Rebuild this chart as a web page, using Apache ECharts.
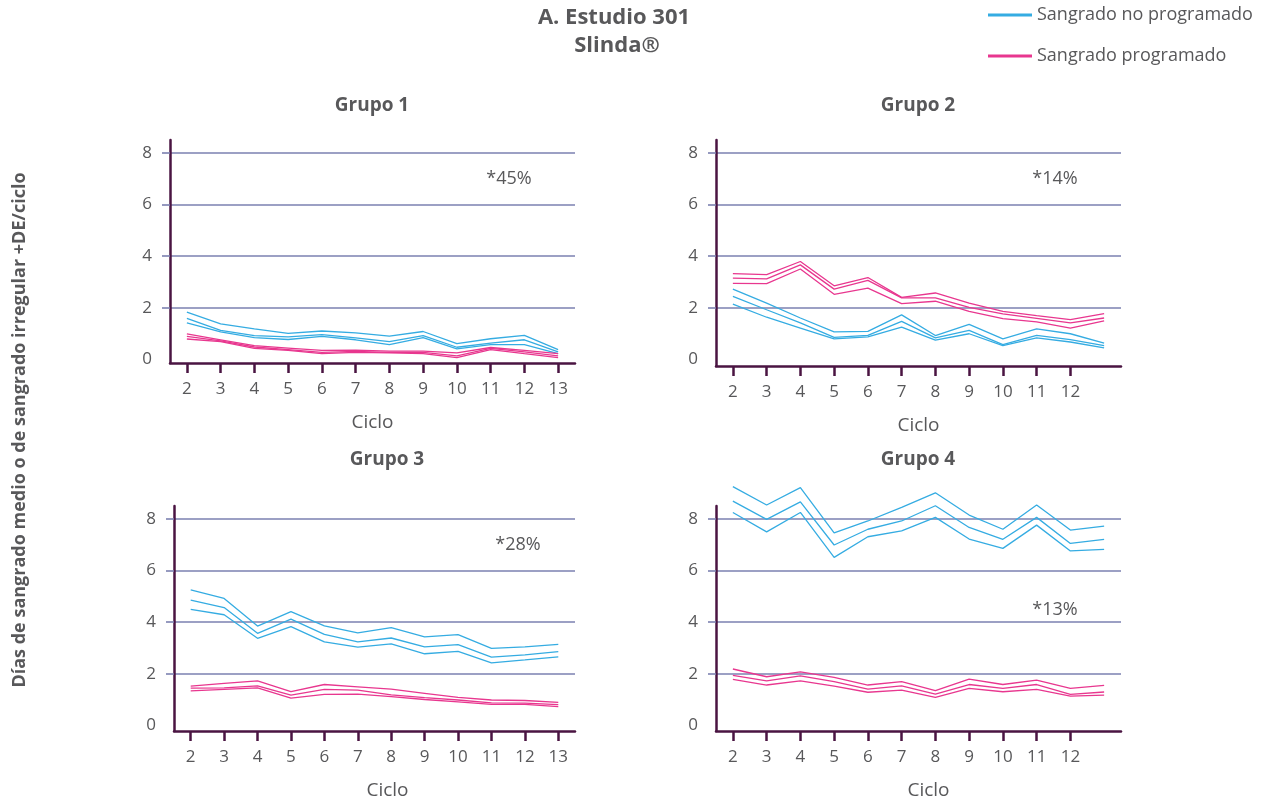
<!DOCTYPE html>
<html>
<head>
<meta charset="utf-8">
<script src="https://cdn.jsdelivr.net/npm/echarts@6/dist/echarts.min.js"></script>
<style>
  html, body { margin: 0; padding: 0; background: #ffffff; }
  #chart { width: 1263px; height: 805px; }
</style>
</head>
<body>
<div id="chart"></div>
<script>
// Cycle categories on the x axis
const ciclos = ['2', '3', '4', '5', '6', '7', '8', '9', '10', '11', '12', '13'];
const yTicks = [0, 2, 4, 6, 8];

// Grupo 1 – sangrado no programado (upper / middle / lower lines)
const g1NoProgAlto  = [1.83, 1.38, 1.18, 1.01, 1.10, 1.03, 0.90, 1.08, 0.61, 0.80, 0.93, 0.38];
const g1NoProgMedio = [1.59, 1.12, 0.92, 0.87, 0.96, 0.83, 0.69, 0.92, 0.47, 0.63, 0.76, 0.29];
const g1NoProgBajo  = [1.41, 1.07, 0.84, 0.77, 0.89, 0.76, 0.57, 0.84, 0.41, 0.57, 0.57, 0.22];
// Grupo 1 – sangrado programado
const g1ProgAlto  = [0.99, 0.76, 0.53, 0.44, 0.35, 0.36, 0.32, 0.32, 0.25, 0.46, 0.35, 0.22];
const g1ProgMedio = [0.89, 0.72, 0.48, 0.38, 0.27, 0.31, 0.27, 0.27, 0.14, 0.43, 0.29, 0.14];
const g1ProgBajo  = [0.79, 0.69, 0.43, 0.35, 0.22, 0.27, 0.25, 0.22, 0.07, 0.38, 0.22, 0.07];

// Grupo 2
const g2NoProgAlto  = [2.72, 2.18, 1.60, 1.06, 1.08, 1.72, 0.92, 1.35, 0.79, 1.18, 0.99, 0.63];
const g2NoProgMedio = [2.44, 1.92, 1.41, 0.85, 0.93, 1.47, 0.83, 1.12, 0.57, 0.93, 0.76, 0.53];
const g2NoProgBajo  = [2.14, 1.63, 1.21, 0.79, 0.87, 1.25, 0.74, 0.99, 0.53, 0.83, 0.67, 0.44];
const g2ProgAlto  = [3.32, 3.28, 3.79, 2.85, 3.17, 2.40, 2.57, 2.18, 1.86, 1.69, 1.54, 1.77];
const g2ProgMedio = [3.15, 3.12, 3.66, 2.72, 3.06, 2.38, 2.38, 2.01, 1.76, 1.59, 1.41, 1.60];
const g2ProgBajo  = [2.94, 2.93, 3.50, 2.52, 2.76, 2.16, 2.25, 1.86, 1.58, 1.45, 1.21, 1.49];

// Grupo 3
const g3NoProgAlto  = [5.25, 4.92, 3.85, 4.41, 3.86, 3.59, 3.79, 3.43, 3.52, 2.99, 3.05, 3.14];
const g3NoProgMedio = [4.86, 4.57, 3.57, 4.12, 3.53, 3.24, 3.39, 3.05, 3.13, 2.65, 2.74, 2.86];
const g3NoProgBajo  = [4.50, 4.29, 3.38, 3.83, 3.24, 3.04, 3.16, 2.78, 2.87, 2.43, 2.54, 2.66];
const g3ProgAlto  = [1.53, 1.63, 1.73, 1.31, 1.59, 1.50, 1.41, 1.25, 1.09, 0.99, 0.97, 0.90];
const g3ProgMedio = [1.45, 1.46, 1.54, 1.18, 1.40, 1.37, 1.19, 1.08, 0.99, 0.88, 0.87, 0.81];
const g3ProgBajo  = [1.34, 1.40, 1.46, 1.06, 1.21, 1.22, 1.12, 1.01, 0.92, 0.82, 0.82, 0.73];

// Grupo 4
const g4NoProgAlto  = [9.25, 8.54, 9.21, 7.46, 7.92, 8.45, 9.01, 8.15, 7.60, 8.54, 7.57, 7.72];
const g4NoProgMedio = [8.69, 7.98, 8.66, 6.99, 7.60, 7.92, 8.51, 7.67, 7.21, 8.06, 7.05, 7.21];
const g4NoProgBajo  = [8.25, 7.50, 8.25, 6.51, 7.31, 7.54, 8.06, 7.22, 6.86, 7.76, 6.76, 6.82];
const g4ProgAlto  = [2.19, 1.89, 2.08, 1.87, 1.57, 1.70, 1.35, 1.80, 1.59, 1.76, 1.44, 1.56];
const g4ProgMedio = [1.94, 1.73, 1.92, 1.70, 1.41, 1.54, 1.22, 1.59, 1.44, 1.59, 1.21, 1.30];
const g4ProgBajo  = [1.79, 1.57, 1.73, 1.53, 1.29, 1.37, 1.09, 1.44, 1.31, 1.40, 1.14, 1.18];

// Panel texts
const grupos = ['Grupo 1', 'Grupo 2', 'Grupo 3', 'Grupo 4'];
const porcentajes = ['*45%', '*14%', '*28%', '*13%'];
const nombreNoProg = 'Sangrado no programado';
const nombreProg = 'Sangrado programado';

const noProg = [
  [g1NoProgAlto, g1NoProgMedio, g1NoProgBajo],
  [g2NoProgAlto, g2NoProgMedio, g2NoProgBajo],
  [g3NoProgAlto, g3NoProgMedio, g3NoProgBajo],
  [g4NoProgAlto, g4NoProgMedio, g4NoProgBajo]
];
const prog = [
  [g1ProgAlto, g1ProgMedio, g1ProgBajo],
  [g2ProgAlto, g2ProgMedio, g2ProgBajo],
  [g3ProgAlto, g3ProgMedio, g3ProgBajo],
  [g4ProgAlto, g4ProgMedio, g4ProgBajo]
];

// Styling
const FONT = '"Open Sans", Lato, sans-serif';
const textGray = '#58585a';
const axisPlum = '#4a1442';
const gridBlue = '#7b80b0';
const azul = '#35ace2';
const rosa = '#e8378f';

// Panel layout (pixels) and the small dip of the x axis below zero
const panels = [
  { left: 170, top: 140, width: 405, height: 223, yMin: -0.14, full: true,  title: [372, 106], ciclo: 0,  pct: [509, 179] },
  { left: 716, top: 140, width: 405, height: 226, yMin: -0.26, full: false, title: [918, 106], ciclo: 0,  pct: [1055, 179] },
  { left: 174, top: 506, width: 401, height: 225, yMin: -0.21, full: true,  title: [387, 460], ciclo: 26, pct: [518, 545] },
  { left: 716, top: 506, width: 405, height: 225, yMin: -0.21, full: false, title: [918, 460], ciclo: 20, pct: [1055, 610] }
];

const grid = [], xAxis = [], yAxis = [], series = [], graphic = [];

panels.forEach((p, i) => {
  grid.push({ left: p.left, top: p.top, width: p.width, height: p.height, containLabel: false });

  // Grupo 2 and 4 carry 12 points but only label cycles 2–12
  const showIdx = p.full ? 0 : (idx) => idx < 11;

  xAxis.push({
    type: 'category',
    gridIndex: i,
    data: ciclos,
    boundaryGap: true,
    name: 'Ciclo',
    nameLocation: 'middle',
    nameGap: 50,
    nameTextStyle: { fontFamily: FONT, fontSize: 19, color: textGray, padding: [0, 0, 0, p.ciclo] },
    axisLine: { show: true, onZero: false, lineStyle: { color: axisPlum, width: 2.5 } },
    axisTick: { show: true, alignWithLabel: true, length: 10, interval: showIdx, lineStyle: { color: axisPlum, width: 2.5 } },
    axisLabel: { interval: showIdx, margin: 18, fontFamily: FONT, fontSize: 17, color: textGray },
    splitLine: { show: false }
  });

  yAxis.push({
    type: 'value',
    gridIndex: i,
    min: p.yMin,
    max: 8.5,
    axisLine: { show: true, lineStyle: { color: axisPlum, width: 2.5 } },
    axisTick: { show: true, length: 8, customValues: [2, 4, 6, 8], lineStyle: { color: gridBlue, width: 1.6 } },
    axisLabel: { customValues: yTicks, margin: 18, fontFamily: FONT, fontSize: 17, color: textGray },
    splitLine: { show: true, lineStyle: { color: gridBlue, width: 1.6 } }
  });

  const addLines = (sets, name, color) => {
    sets.forEach((vals) => {
      series.push({
        type: 'line',
        name: name,
        xAxisIndex: i,
        yAxisIndex: i,
        data: vals,
        symbol: 'none',
        showSymbol: false,
        clip: false,
        silent: true,
        color: color,
        lineStyle: { color: color, width: 1.3 }
      });
    });
  };
  addLines(noProg[i], nombreNoProg, azul);
  addLines(prog[i], nombreProg, rosa);

  graphic.push({
    type: 'text', x: p.title[0], y: p.title[1], silent: true,
    style: { text: grupos[i], font: 'bold 19px ' + FONT, fill: textGray, align: 'center', verticalAlign: 'middle' }
  });
  graphic.push({
    type: 'text', x: p.pct[0], y: p.pct[1], silent: true,
    style: { text: porcentajes[i], font: '18px ' + FONT, fill: textGray, align: 'center', verticalAlign: 'middle' }
  });
});

// Main title and shared y-axis caption
graphic.push({
  type: 'text', x: 614, y: 18, silent: true,
  style: { text: 'A. Estudio 301', font: 'bold 22px ' + FONT, fill: textGray, align: 'center', verticalAlign: 'middle' }
});
graphic.push({
  type: 'text', x: 617, y: 46, silent: true,
  style: { text: 'Slinda®', font: 'bold 22px ' + FONT, fill: textGray, align: 'center', verticalAlign: 'middle' }
});
graphic.push({
  type: 'text', x: 20, y: 430, rotation: Math.PI / 2, silent: true,
  style: { text: 'Días de sangrado medio o de sangrado irregular +DE/ciclo', font: 'bold 18px ' + FONT, fill: textGray, align: 'center', verticalAlign: 'middle' }
});

const chart = echarts.init(document.getElementById('chart'), null, { renderer: 'canvas' });
chart.setOption({
  animation: false,
  backgroundColor: '#ffffff',
  grid: grid,
  xAxis: xAxis,
  yAxis: yAxis,
  series: series,
  graphic: graphic,
  legend: {
    data: [nombreNoProg, nombreProg],
    orient: 'vertical',
    left: 983,
    top: 1,
    icon: 'rect',
    itemWidth: 44,
    itemHeight: 3,
    itemGap: 23,
    selectedMode: false,
    textStyle: { fontFamily: FONT, fontSize: 18, color: textGray, lineHeight: 18 }
  }
});
</script>
</body>
</html>
